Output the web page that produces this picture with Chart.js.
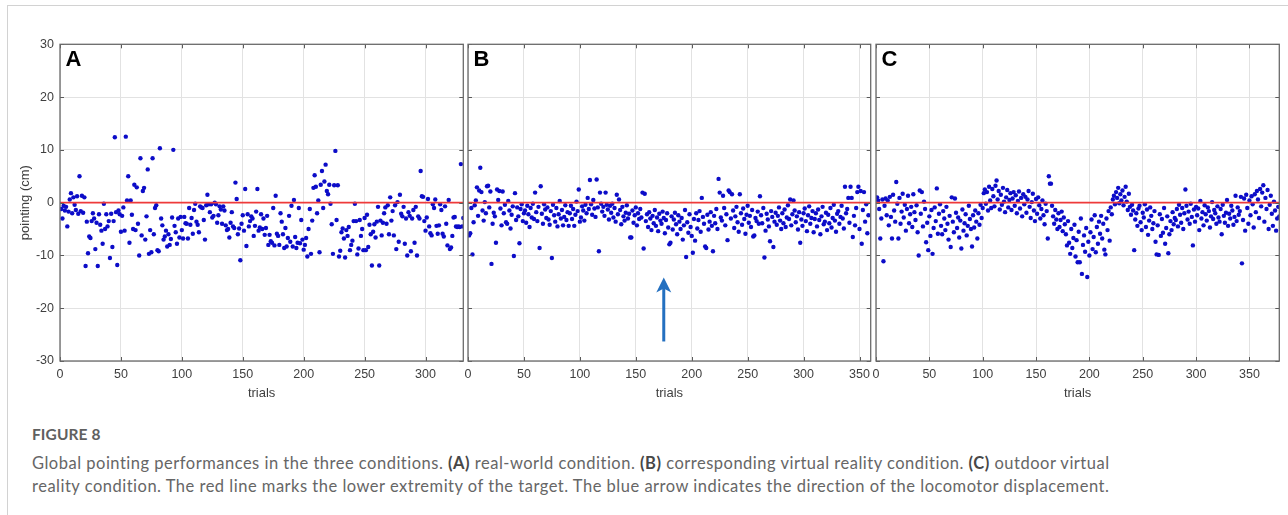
<!DOCTYPE html>
<html>
<head>
<meta charset="utf-8">
<script src="https://cdn.jsdelivr.net/npm/chart.js@4.4.1/dist/chart.umd.min.js"></script>
<style>
	html, body { margin: 0; padding: 0; background: #fff; }
	body { width: 1288px; height: 515px; position: relative; overflow: hidden; }
	#frame { position: absolute; left: 7px; top: 5px; width: 1290px; height: 520px; border-left: 1px solid #d2d2d2; border-top: 1px solid #d2d2d2; }
	.panel { position: absolute; left: 0; top: 0; }
	#figlabel { position: absolute; left: 32px; top: 425px; font-family: Lato, "Open Sans", sans-serif; font-size: 15.5px; font-weight: 700; color: #606060; letter-spacing: 0.1px; }
	#caption { position: absolute; left: 32px; top: 452px; font-family: Lato, "Open Sans", sans-serif; font-size: 16.5px; line-height: 23px; letter-spacing: 0.5px; color: #666; white-space: nowrap; }
	#caption b { color: #474747; }
</style>
</head>
<body>
<div id="frame"></div>
<canvas id="panelA" class="panel" width="1288" height="410"></canvas>
<canvas id="panelB" class="panel" width="1288" height="410"></canvas>
<canvas id="panelC" class="panel" width="1288" height="410"></canvas>
<div id="figlabel">FIGURE 8</div>
<div id="caption">Global pointing performances in the three conditions. <b>(A)</b> real-world condition. <b>(B)</b> corresponding virtual reality condition. <b>(C)</b> outdoor virtual<br>reality condition. The red line marks the lower extremity of the target. The blue arrow indicates the direction of the locomotor displacement.</div>
<script>
"use strict";

// pointing error (cm) per trial, trial number = index + 1
const pointingA = [
	-1.2, -3.0, -0.6, -1.5, -0.8, -4.5, -1.7, 0.6, 1.8, -2.0,
	1.0, -0.4, -1.4, 1.2, -2.1, 5.0, -1.6, 1.3, -1.9, 1.0,
	-12.0, -3.6, -9.6, -6.4, -6.7, -3.5, -2.0, -3.0, -8.8, -3.8,
	-12.0, -2.2, -4.2, -5.3, -7.8, -0.2, -5.0, -2.2, -4.5, -3.5,
	-10.5, -2.1, -8.4, -3.5, 12.4, -1.8, -11.8, -1.5, -2.2, -5.5,
	-2.5, -0.9, -5.3, 12.5, 0.4, 5.0, -7.6, 0.4, -2.3, -5.0,
	3.4, -5.2, 2.9, -4.0, -10.0, 8.4, -6.2, 2.2, 2.8, -7.0,
	-2.6, 6.3, -9.7, -5.2, -9.4, 8.4, -6.0, -1.0, -0.5, -9.0,
	-9.2, 10.3, -3.0, -4.3, -7.0, -6.4, -5.3, -8.3, -6.0, -8.0,
	-6.9, -2.8, 10.0, -4.4, -5.6, -7.8, -3.0, -6.6, -2.7, -5.2,
	-6.8, -2.7, -3.9, -4.0, -6.8, -1.0, -4.2, -2.9, -5.9, -1.4,
	-0.2, -3.6, -4.2, -5.6, -0.7, -0.9, -1.0, -3.3, -7.0, -0.5,
	1.5, -0.3, -1.8, -0.3, -2.8, -2.5, 0.0, -0.3, -3.8, -2.4,
	-0.7, -1.3, -4.0, -0.7, -1.5, -4.3, -5.2, -5.0, -6.6, -3.8,
	-1.8, -4.5, -4.8, 3.8, 0.7, -6.0, -4.9, -10.9, -4.0, -2.4,
	-5.3, 2.6, -8.2, -2.2, -4.5, -3.5, -2.6, -3.0, -6.3, -4.4,
	-1.7, 2.6, -5.3, -4.7, -2.2, -5.0, -3.0, -6.1, -4.8, -2.5,
	-8.0, -6.1, -7.3, -7.6, -1.0, -8.1, 1.3, -5.9, -6.3, -8.0,
	-2.0, -3.6, -6.0, -8.6, -4.8, -8.3, -6.7, -2.5, -7.4, -0.6,
	-8.3, 0.5, -6.5, -8.6, -7.6, -1.0, -7.7, -3.3, -7.0, -8.9,
	-8.0, -6.7, -10.2, -5.0, -1.2, -9.7, -3.4, 2.8, 5.2, 3.0,
	-2.0, 0.4, -9.4, 3.4, 6.0, -1.0, 4.0, 7.2, 2.2, 1.6,
	3.4, -0.2, -4.1, -9.7, 3.3, 9.8, -3.3, 3.3, -10.2, -9.1,
	-5.6, -4.9, -6.8, -10.4, -5.2, -6.3, -4.6, -9.0, -8.0, -7.2,
	-3.5, -0.2, -3.5, -9.8, -8.7, -3.3, -6.3, -5.0, -9.0, -2.9,
	-9.0, -2.3, -8.4, -4.2, -6.0, -11.9, -5.5, -4.1, -6.6, -3.6,
	-0.8, -11.9, -3.4, -6.2, -3.8, -2.0, -0.9, -4.0, -0.5, -6.0,
	1.0, -3.4, -1.6, -6.2, -0.5, -8.8, 0.1, -7.4, 1.5, -2.1,
	-2.6, -0.8, -7.8, -3.0, -10.0, -1.8, -2.5, -9.2, -3.0, -1.4,
	-7.6, -0.8, -10.0, -2.6, -3.0, 6.0, 1.2, 1.1, -3.5, -5.3,
	-2.8, 0.7, -4.5, -5.8, -6.2, -0.3, -1.0, 0.6, -4.4, -5.9,
	-4.3, -0.3, -1.4, -5.9, -6.4, -0.7, -4.0, -8.1, 0.5, -8.8,
	-8.5, -6.3, -2.8, -2.7, -4.5, -4.6, -4.5, -4.6, 7.3, -4.5,
	-2.9
];

const pointingB = [
	-6.2, -5.8, -1.0, -9.8, -3.7, -0.5, 0.4, 2.9, -2.5, 2.3,
	6.6, 2.0, -1.5, -3.4, 0.1, -2.0, 3.1, 3.2, -0.9, 2.1,
	-11.6, -4.0, -1.9, -2.6, -7.6, 2.5, 0.5, 2.2, -1.1, -4.3,
	2.1, -2.0, -0.4, -3.7, -4.0, 0.3, -1.5, -4.9, -2.3, -0.7,
	-10.1, 1.8, -3.3, -0.9, -2.6, -7.7, -1.2, -0.3, -3.5, -2.0,
	-1.5, -3.8, -0.6, -2.2, -4.6, -1.0, -2.8, -0.2, -3.1, 1.9,
	-1.8, -3.5, -0.8, -8.6, 3.1, -2.1, -4.0, -0.3, -1.3, -2.9,
	-0.9, -3.2, -4.2, -1.6, -10.5, -0.4, -2.4, -3.6, -1.0, -4.5,
	-2.2, 0.3, -3.0, -1.4, -4.3, -2.7, -0.5, -3.3, -1.8, -4.4,
	-2.0, -0.6, -3.1, -1.2, -4.4, -2.3, 0.2, -1.6, 2.5, -3.6,
	-2.8, -0.7, -1.5, -3.4, -0.4, -2.0, 0.9, -1.2, 4.3, -0.3,
	-2.3, 0.5, -1.1, -2.7, 4.4, -0.9, -9.2, 1.9, -0.2, -1.7,
	-0.8, -2.5, 1.9, -0.4, -1.3, -3.2, -0.6, -1.9, -0.2, -2.8,
	-1.0, -3.6, 1.5, -2.2, 0.6, -1.4, -4.1, -0.8, -2.6, -3.4,
	-1.9, -0.5, -3.0, -2.1, -6.6, -6.6, -1.5, -3.8, -2.4, -0.9,
	-4.3, -2.0, -3.1, -1.2, -2.8, 1.9, -8.7, 1.7, -3.5, -2.2,
	-4.6, -1.8, -3.0, -5.2, -2.5, -3.9, -1.4, -4.4, -2.8, -5.4,
	-2.1, -3.4, -4.0, -1.7, -2.9, -5.8, -3.3, -2.0, -4.7, -7.9,
	-7.6, -2.6, -5.1, -3.2, -1.9, -4.1, -6.0, -2.4, -3.6, -5.0,
	-2.9, -7.0, -4.3, -1.4, -10.3, -3.7, -5.7, -2.2, -4.6, -6.3,
	-9.5, -3.1, -7.2, -2.0, -4.9, -3.3, -1.6, -5.5, 0.9, -2.7,
	-4.0, -8.3, -8.6, -2.3, -5.1, -3.6, -1.8, -4.4, -9.2, -2.5,
	-3.9, -1.2, -5.0, 4.5, 1.9, -2.8, -3.4, 1.3, -1.0, -4.3,
	-2.2, -7.1, 2.3, 2.0, -3.0, 1.6, -1.5, -4.8, -2.6, -0.8,
	-3.7, -5.5, 1.6, -2.0, -4.2, -1.1, -3.1, -5.9, -2.3, -0.6,
	-3.8, -2.5, -4.6, -1.4, -6.4, -6.2, -2.9, -3.5, -1.7, -4.0,
	1.2, -2.4, -3.9, -1.0, -10.4, -5.3, -2.1, -3.2, -4.5, -7.3,
	-1.6, -2.7, -8.4, -3.6, -1.9, -4.2, -2.5, -0.9, -3.4, -5.0,
	-2.0, -3.9, -1.3, -4.6, -2.8, -0.5, -3.1, 0.6, -4.3, -2.2,
	0.4, -1.5, -3.7, -2.6, -5.1, -1.8, -7.6, -3.2, -4.4, -2.0,
	-1.1, -3.5, -5.4, -2.4, -0.7, -4.0, -2.9, -1.6, -5.6, -3.1,
	-2.0, -4.5, -1.3, -3.3, -6.0, -2.6, -0.8, -4.1, -3.6, -1.9,
	-5.2, -2.3, -3.9, -1.0, -4.7, -2.9, -0.4, -3.4, -5.5, -2.1,
	-1.6, -4.0, -2.7, -0.6, -3.0, -4.9, 3.0, -2.0, -1.2, 0.9,
	-3.8, 3.0, 0.9, -6.5, -2.5, -4.3, -1.0, 2.0, 3.0, -5.0,
	2.2, -7.8, -1.4, 2.0, -3.6, -0.3, -5.8, -2.4
];

const pointingC = [
	1.0, 0.4, -1.2, -6.8, -3.0, 0.6, -11.1, -0.6, 0.8, -2.4,
	0.4, -4.3, 1.1, -2.7, -6.8, 1.5, -1.5, -3.6, 3.9, -0.2,
	-6.8, 0.9, -4.0, -1.7, 1.7, -2.8, -0.4, -5.3, -1.2, 1.3,
	-3.9, -2.2, -0.8, -4.6, 1.6, -1.8, -3.3, -0.5, -5.6, -10.0,
	2.3, -2.1, 2.0, -4.5, 0.2, -1.2, -7.5, -3.8, -9.0, -2.6,
	-6.3, -1.4, -9.7, -4.8, -0.9, -3.5, 2.7, -5.9, -2.1, -0.3,
	-4.4, -6.0, -1.6, -3.0, -5.2, -0.8, -4.0, -7.0, -2.5, -8.4,
	1.0, -3.6, -5.6, 0.8, -1.9, -4.8, -2.8, -6.6, -3.4, -8.7,
	-1.3, -5.3, -3.9, -2.2, -6.2, -4.4, -0.6, -3.1, -5.0, -8.3,
	-2.4, -4.7, -1.5, -3.6, -6.8, -2.0, -4.2, -0.4, -2.9, -1.0,
	1.8, 2.5, -0.2, 2.0, -1.5, 3.0, 0.4, -1.0, 2.6, 1.2,
	-0.7, 3.2, 4.2, 0.6, 2.2, -1.3, 1.5, -0.4, 2.8, 0.2,
	-1.8, 1.0, 2.4, -0.9, 0.5, 1.8, -1.4, 0.8, 2.0, -0.6,
	1.4, -2.0, 0.3, 2.1, -1.1, 0.9, -2.6, 1.6, -0.3, 1.1,
	-1.9, 0.6, 2.2, -0.8, -2.9, 0.1, 1.7, -1.5, -3.5, 0.7,
	-2.1, 1.0, -0.5, -3.0, -1.2, 0.4, -2.4, -4.1, -0.2, -1.6,
	-6.8, 5.0, 3.6, 3.6, -0.6, -2.6, -4.0, -1.4, -3.2, -5.0,
	-2.0, -4.6, -3.3, -1.7, -5.4, -2.8, -4.1, -6.0, -8.1, -3.5,
	-7.6, -9.7, -5.0, -8.6, -6.7, -4.2, -10.2, -7.1, -11.3, -5.5,
	-11.3, -3.0, -13.5, -8.0, -6.2, -9.3, -4.8, -14.1, -7.4, -10.0,
	-5.6, -3.2, -8.8, -6.5, -2.4, -9.4, -4.6, -7.8, -3.6, -5.9,
	-2.5, -6.8, -4.0, -8.9, -9.8, -3.0, -5.2, -1.6, -7.2, -0.9,
	-2.2, 0.6, 1.3, -0.3, 2.0, 0.9, 2.8, -0.1, 1.6, 0.4,
	2.3, -0.5, 1.1, 3.0, 0.2, -1.4, 1.7, -0.8, -2.3, -0.4,
	-1.5, -9.0, -3.2, -2.0, -4.4, -1.1, -0.6, -3.7, -5.2, -1.9,
	-2.8, -0.3, -4.6, -1.3, -6.1, -3.4, -0.9, -2.5, -5.0, -3.9,
	-1.6, -7.4, -9.8, -4.3, -9.9, -2.2, -6.3, -3.1, -5.7, -1.0,
	-7.8, -4.8, -2.6, -9.6, -6.0, -3.5, -5.2, -1.8, -4.1, -2.9,
	-3.3, -1.2, -4.5, -0.4, -2.3, -3.8, -1.0, -5.0, -2.0, 2.5,
	-0.6, -3.2, -1.7, -4.0, -0.2, -2.7, -8.1, -1.3, -3.6, -0.8,
	-2.4, -1.1, -5.2, 0.3, -3.0, -1.8, -4.3, -0.5, -2.2, -3.4,
	-0.9, -1.6, -4.7, -2.6, 0.1, -3.1, -1.4, -2.0, -4.0, -0.7,
	-2.8, -3.6, -1.2, -6.0, -0.4, -2.5, -3.8, -1.9, 0.5, -4.4,
	-2.1, -3.0, -0.6, -1.5, -4.2, -2.7, 1.3, -3.5, -0.9, -2.3,
	-1.6, 1.1, -11.5, -3.3, 0.8, -5.3, 1.5, -1.0, -4.0, 0.4,
	-2.4, 1.2, -0.3, -4.7, 1.6, -1.8, 2.2, 0.6, -2.9, 2.6,
	-0.7, 1.9, 3.3, -3.6, 0.9, -1.2, 2.4, -5.0, -0.4, 1.3,
	-2.1, -4.4, 0.2, -1.5, -5.3, -3.0, -0.8, -2.6
];

const trialMaxA = 331;
const trialMaxB = 360;
const trialMaxC = 378;
const trialTicksA = [0, 50, 100, 150, 200, 250, 300];
const trialTicksB = [0, 50, 100, 150, 200, 250, 300, 350];
const trialTicksC = [0, 50, 100, 150, 200, 250, 300, 350];
const pointingTicks = [-30, -20, -10, 0, 10, 20, 30];
const targetLevel = 0; // red line: lower extremity of the target

// blue arrow in panel B (trial, from/to in cm)
const arrowTrial = 175;
const arrowFrom = -26.3;
const arrowTo = -14.2;

const AXIS_FONT = 'Liberation Sans, Arial, sans-serif';
const PLOT_TOP = 44.3;
const PLOT_BOTTOM = 361;
const CANVAS_W = 1288;
const CANVAS_H = 410;

// draws the axes box, inward tick marks and the panel letter
const boxPlugin = {
	id: 'matlabBox',
	afterDatasetsDraw(chart, args, opts) {
		const ctx = chart.ctx;
		const a = chart.chartArea;
		const xs = chart.scales.x;
		const ys = chart.scales.y;
		ctx.save();
		ctx.strokeStyle = '#5a5a5a';
		ctx.lineWidth = 1;
		ctx.beginPath();
		xs.ticks.forEach(function(t) {
			const px = Math.round(xs.getPixelForValue(t.value)) + 0.5;
			ctx.moveTo(px, a.bottom); ctx.lineTo(px, a.bottom - 4);
			ctx.moveTo(px, a.top); ctx.lineTo(px, a.top + 4);
		});
		ys.ticks.forEach(function(t) {
			const py = Math.round(ys.getPixelForValue(t.value)) + 0.5;
			ctx.moveTo(a.left, py); ctx.lineTo(a.left + 4, py);
			ctx.moveTo(a.right, py); ctx.lineTo(a.right - 4, py);
		});
		ctx.stroke();
		ctx.strokeStyle = '#6a6a6a';
		ctx.lineWidth = 1.3;
		ctx.strokeRect(a.left, a.top, a.right - a.left, a.bottom - a.top);
		ctx.fillStyle = '#000';
		ctx.font = 'bold 22px ' + AXIS_FONT;
		ctx.textBaseline = 'alphabetic';
		ctx.fillText(opts.letter, a.left + 5.5, a.top + 21.7);
		ctx.restore();
	}
};

const arrowPlugin = {
	id: 'locomotionArrow',
	afterDatasetsDraw(chart, args, opts) {
		if (!opts.show) {
			return;
		}
		const ctx = chart.ctx;
		const xs = chart.scales.x;
		const ys = chart.scales.y;
		const px = xs.getPixelForValue(arrowTrial);
		const y0 = ys.getPixelForValue(arrowFrom);
		const y1 = ys.getPixelForValue(arrowTo);
		ctx.save();
		ctx.strokeStyle = '#2470c0';
		ctx.fillStyle = '#2470c0';
		ctx.lineWidth = 3;
		ctx.beginPath();
		ctx.moveTo(px, y0);
		ctx.lineTo(px, y1 + 10);
		ctx.stroke();
		ctx.beginPath();
		ctx.moveTo(px, y1);
		ctx.lineTo(px - 7.5, y1 + 15);
		ctx.lineTo(px, y1 + 11);
		ctx.lineTo(px + 7.5, y1 + 15);
		ctx.closePath();
		ctx.fill();
		ctx.restore();
	}
};

function makePanel(canvasId, letter, values, trialMax, trialTicks, plotLeft, plotRight, withYAxis, withArrow) {
	const points = values.map(function(v, i) {
		return { x: i + 1, y: v };
	});
	return new Chart(document.getElementById(canvasId), {
		type: 'scatter',
		data: {
			datasets: [
				{
					// target line
					type: 'line',
					data: [{ x: 0, y: targetLevel }, { x: trialMax, y: targetLevel }],
					borderColor: '#ee3a3a',
					borderWidth: 1.6,
					pointRadius: 0,
					order: 0,
				},
				{
					data: points,
					backgroundColor: '#0c0cc8',
					borderWidth: 0,
					pointRadius: 2.2,
					order: 1,
				}
			]
		},
		options: {
			responsive: false,
			animation: false,
			devicePixelRatio: 1,
			layout: {
				padding: {
					left: withYAxis ? 0 : plotLeft,
					right: CANVAS_W - plotRight,
					top: PLOT_TOP,
					bottom: 4,
				}
			},
			scales: {
				x: {
					type: 'linear',
					min: 0,
					max: trialMax,
					afterBuildTicks: function(scale) {
						scale.ticks = trialTicks.map(function(v) { return { value: v }; });
					},
					afterFit: function(scale) {
						scale.height = CANVAS_H - 4 - PLOT_BOTTOM;
					},
					ticks: {
						color: '#3f3f3f',
						padding: 6,
						maxRotation: 0,
						font: { family: AXIS_FONT, size: 12.5 },
					},
					grid: {
						color: '#e2e2e2',
						drawTicks: false,
					},
					border: { display: false },
					title: {
						display: true,
						text: 'trials',
						color: '#3f3f3f',
						font: { family: AXIS_FONT, size: 13 },
						padding: { top: 0, bottom: 5 },
					}
				},
				y: {
					type: 'linear',
					min: -30,
					max: 30,
					afterBuildTicks: function(scale) {
						scale.ticks = pointingTicks.map(function(v) { return { value: v }; });
					},
					afterFit: function(scale) {
						scale.width = withYAxis ? plotLeft : 0;
					},
					ticks: {
						display: withYAxis,
						color: '#3f3f3f',
						padding: 6,
						font: { family: AXIS_FONT, size: 12.5 },
					},
					grid: {
						color: '#e2e2e2',
						drawTicks: false,
					},
					border: { display: false },
					title: {
						display: withYAxis,
						text: 'pointing (cm)',
						color: '#3f3f3f',
						font: { family: AXIS_FONT, size: 13 },
						padding: { top: 18, bottom: 0 },
					}
				}
			},
			plugins: {
				legend: { display: false },
				tooltip: { enabled: false },
				matlabBox: { letter: letter },
				locomotionArrow: { show: withArrow },
			}
		},
		plugins: [boxPlugin, arrowPlugin]
	});
}

makePanel('panelA', 'A', pointingA, trialMaxA, trialTicksA, 60, 463.3, true, false);
makePanel('panelB', 'B', pointingB, trialMaxB, trialTicksB, 468, 870.7, false, true);
makePanel('panelC', 'C', pointingC, trialMaxC, trialTicksC, 876, 1279.3, false, false);
</script>
</body>
</html>
